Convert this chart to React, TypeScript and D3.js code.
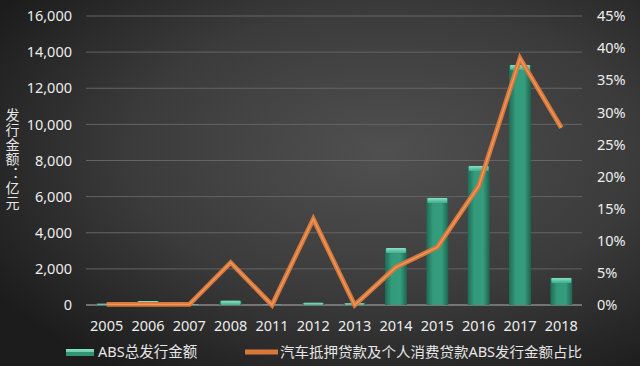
import * as d3 from "d3";

const years = ["2005", "2006", "2007", "2008", "2011", "2012", "2013", "2014", "2015", "2016", "2017", "2018"];
// ABS总发行金额 (亿元)
const absTotal = [70, 220, 30, 240, 10, 120, 100, 3150, 5930, 7700, 13290, 1500];
// 汽车抵押贷款及个人消费贷款ABS发行金额占比 (%)
const autoShare = [0.1, 0.1, 0.1, 6.6, 0, 13.4, 0, 5.9, 9.0, 18.5, 38.4, 27.6];
const leftTicks = [0, 2000, 4000, 6000, 8000, 10000, 12000, 14000, 16000];
const rightTicks = [0, 5, 10, 15, 20, 25, 30, 35, 40, 45];
const yTitle = "发行金额：亿元";

const W = 640;
const H = 366;
const FONT = "'Noto Sans', 'Noto Sans CJK SC', sans-serif";

export default function App() {
  const x = d3.scaleBand().domain(years).range([86, 582]).paddingInner(0.47).paddingOuter(0.235);
  const y = d3.scaleLinear().domain([0, 16000]).range([305, 16]);
  const y2 = d3.scaleLinear().domain([0, 45]).range([305, 16]);
  const fmt = d3.format(",");

  const line = d3
    .line<number>()
    .x((_, i) => (x(years[i]) ?? 0) + x.bandwidth() / 2)
    .y((d) => y2(d))
    .curve(d3.curveLinear);
  const path = line(autoShare) ?? "";

  return (
    <svg
      width={W}
      height={H}
      style={{ position: "absolute", left: 0, top: 0, display: "block" }}
      fontFamily={FONT}
    >
      <defs>
        <radialGradient id="bg" cx="0.6" cy="0.42" r="0.72">
          <stop offset="0" stopColor="#505050" />
          <stop offset="0.55" stopColor="#3b3b3b" />
          <stop offset="1" stopColor="#1c1c1c" />
        </radialGradient>
        <linearGradient id="bar" x1="0" x2="1" y1="0" y2="0">
          <stop offset="0" stopColor="#1f6b55" />
          <stop offset="0.3" stopColor="#339b7c" />
          <stop offset="0.7" stopColor="#359c7e" />
          <stop offset="1" stopColor="#1d6450" />
        </linearGradient>
        <linearGradient id="cap" x1="0" x2="0" y1="0" y2="1">
          <stop offset="0" stopColor="#8be0c3" />
          <stop offset="1" stopColor="#3fae8b" />
        </linearGradient>
      </defs>
      <rect width={W} height={H} fill="url(#bg)" />

      {/* gridlines */}
      {leftTicks.map((t) => (
        <line
          key={t}
          x1={86}
          x2={582}
          y1={y(t)}
          y2={y(t)}
          stroke={t === 0 ? "#8a8a8a" : "#646464"}
          strokeWidth={t === 0 ? 1.6 : 1}
        />
      ))}

      {/* left ticks */}
      {leftTicks.map((t) => (
        <text key={t} x={72} y={y(t)} dy="0.36em" textAnchor="end" fontSize={14.5} fill="#ededed">
          {fmt(t)}
        </text>
      ))}

      {/* right ticks */}
      {rightTicks.map((t) => (
        <text key={t} x={597} y={y2(t)} dy="0.36em" textAnchor="start" fontSize={14.5} fill="#ededed">
          {t}%
        </text>
      ))}

      {/* y title, vertical */}
      <text
        x={12}
        y={108}
        fontSize={14}
        fill="#e6e6e6"
        letterSpacing={0.6}
        style={{ writingMode: "vertical-rl", textOrientation: "upright" }}
      >
        {yTitle}
      </text>

      {/* bars */}
      {absTotal.map((v, i) => {
        const bx = x(years[i]) ?? 0;
        const bw = x.bandwidth();
        const top = y(v);
        const h = y(0) - top;
        const cap = Math.min(5, h);
        return (
          <g key={years[i]}>
            <rect x={bx} y={top} width={bw} height={h} fill="url(#bar)" />
            <rect x={bx + 1} y={top} width={bw - 2} height={cap} fill="url(#cap)" rx={1} />
          </g>
        );
      })}

      {/* line */}
      <path d={path} fill="none" stroke="#d9763a" strokeWidth={4.8} strokeLinejoin="miter" />
      <path d={path} fill="none" stroke="#eb9a5f" strokeWidth={1.4} strokeLinejoin="miter" />

      {/* x labels */}
      {years.map((yr) => (
        <text
          key={yr}
          x={(x(yr) ?? 0) + x.bandwidth() / 2}
          y={326}
          dy="0.36em"
          textAnchor="middle"
          fontSize={14.5}
          fill="#ededed"
        >
          {yr}
        </text>
      ))}

      {/* legend */}
      <rect x={66} y={349} width={28} height={7} fill="url(#cap)" />
      <rect x={66} y={352} width={28} height={4} fill="#2f9474" />
      <text x={98} y={352} dy="0.36em" fontSize={14.5} fill="#e6e6e6">
        ABS总发行金额
      </text>
      <line x1={245} x2={278} y1={352} y2={352} stroke="#d9763a" strokeWidth={4.8} />
      <text x={280} y={352} dy="0.36em" fontSize={14} fill="#e6e6e6" textLength={302} lengthAdjust="spacingAndGlyphs">
        汽车抵押贷款及个人消费贷款ABS发行金额占比
      </text>
    </svg>
  );
}
